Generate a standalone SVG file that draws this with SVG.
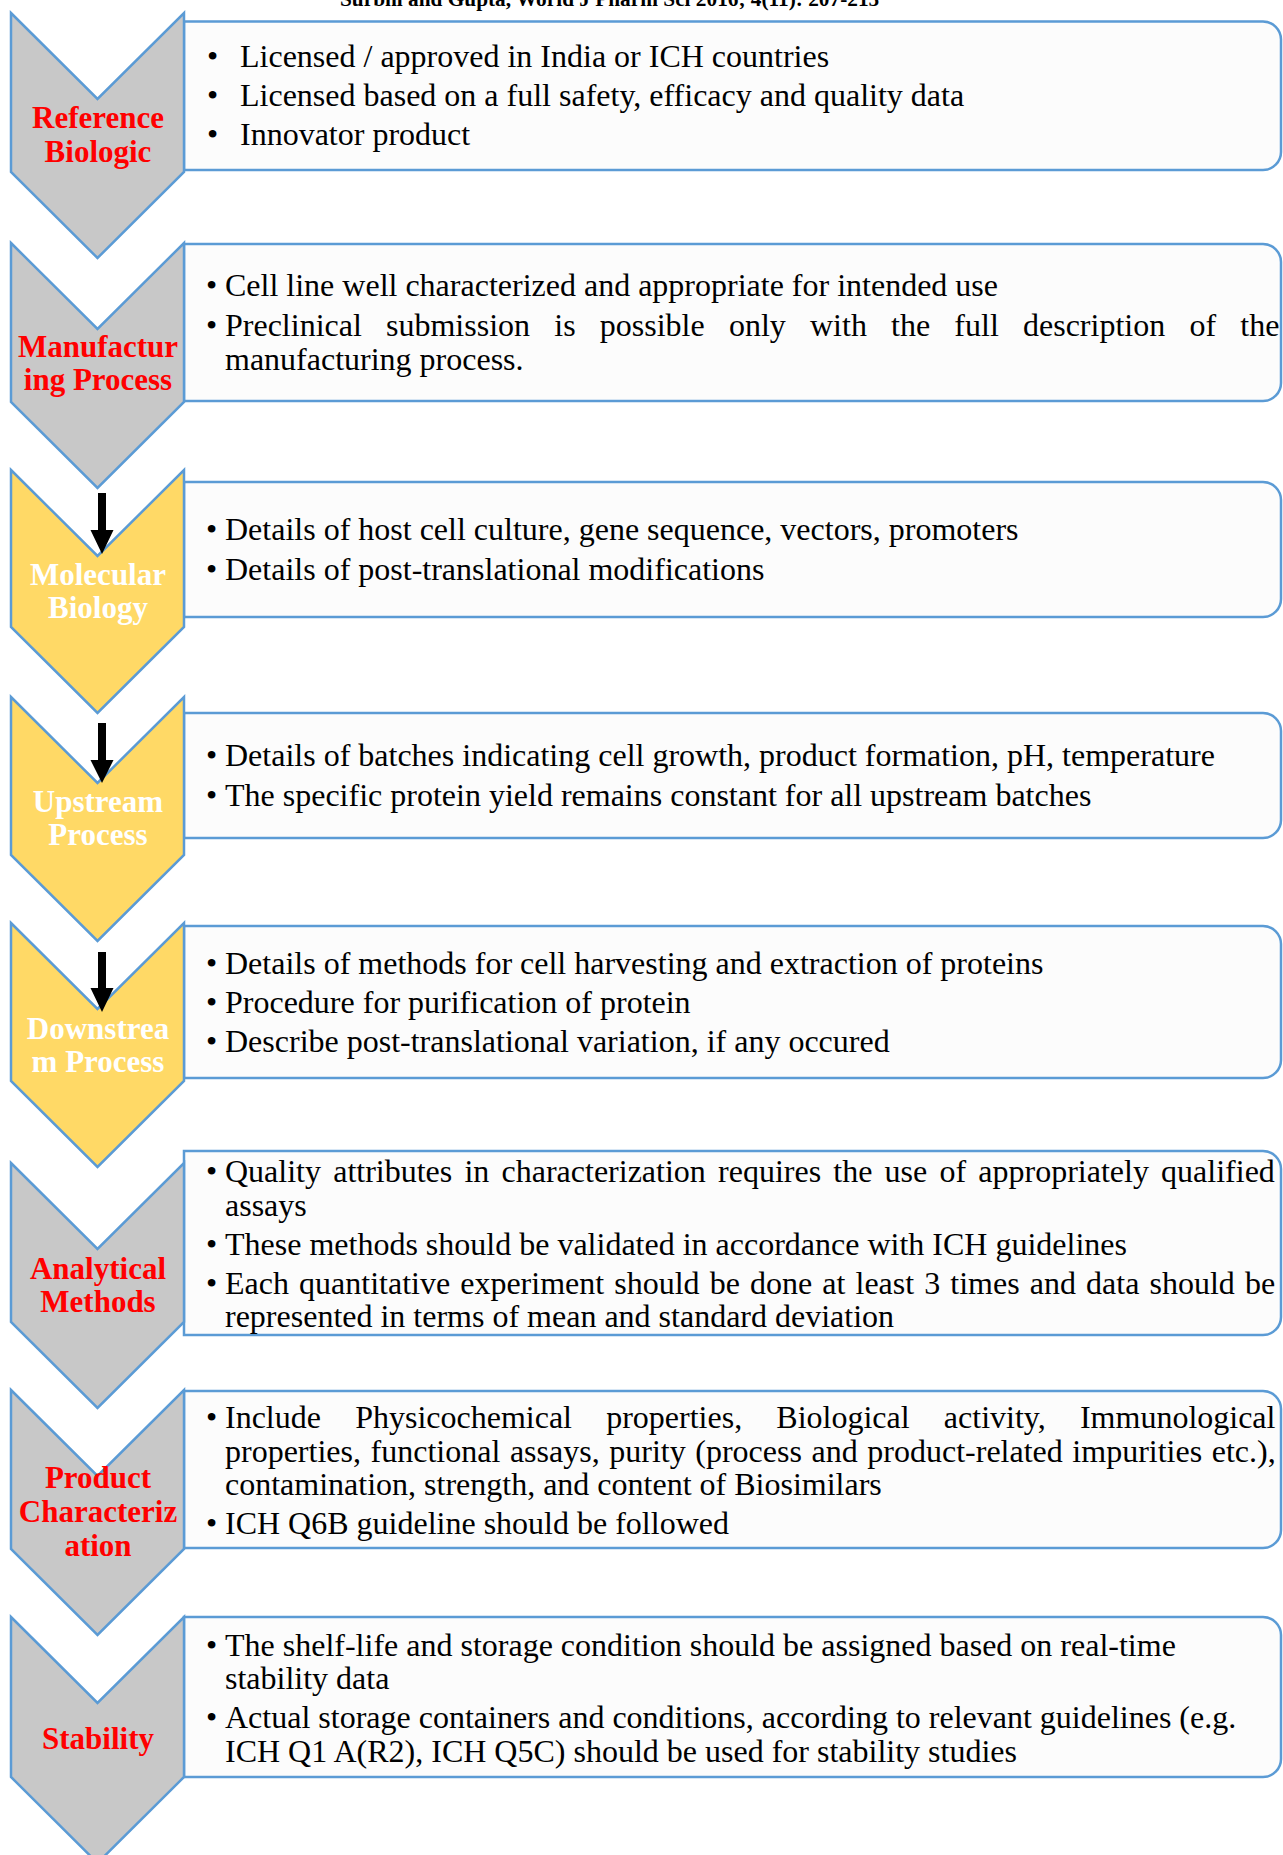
<svg xmlns="http://www.w3.org/2000/svg" width="1283" height="1855" viewBox="0 0 1283 1855">
<style>
.grey{fill:#c8c8c8;stroke:#5b9bd5;stroke-width:2.5;stroke-linejoin:miter}
.yel{fill:#ffd966;stroke:#5b9bd5;stroke-width:2.5;stroke-linejoin:miter}
.box{fill:#fcfcfc;stroke:#5b9bd5;stroke-width:2.5}
.t{font-family:"Liberation Serif","Times New Roman",serif;font-weight:bold;font-size:31px;text-anchor:middle}
.red{fill:#ff0000}
.wht{fill:#ffffff}
.b{font-family:"Liberation Serif","Times New Roman",serif;font-size:32px;fill:#000}
.hdr{font-family:"Liberation Serif","Times New Roman",serif;font-weight:bold;font-size:21.3px;fill:#000}
.arr{fill:#000}
</style>
<rect width="1283" height="1855" fill="#ffffff"/>
<text class="hdr" x="340" y="6">Surbhi and Gupta, World J Pharm Sci 2016; 4(11): 207-215</text>

<g id="node1">
<path class="box" d="M184,21.5 H1263 A18,18 0 0 1 1281,39.5 V152 A18,18 0 0 1 1263,170 H184 Z"/>
<polygon class="grey" points="11,13 97.5,99 184,13 184,172 97.5,258 11,172"/>
<text class="t red" x="98" y="128">Reference</text>
<text class="t red" x="98" y="162">Biologic</text>
<text class="b" x="207" y="67">•</text><text class="b" x="240" y="67">Licensed / approved in India or ICH countries</text>
<text class="b" x="207" y="106">•</text><text class="b" x="240" y="106">Licensed based on a full safety, efficacy and quality data</text>
<text class="b" x="207" y="145">•</text><text class="b" x="240" y="145">Innovator product</text>
</g>

<g id="node2">
<path class="box" d="M184,244 H1263 A18,18 0 0 1 1281,262 V383 A18,18 0 0 1 1263,401 H184 Z"/>
<polygon class="grey" points="11,243 97.5,329 184,243 184,402 97.5,488 11,402"/>
<text class="t red" x="98" y="357">Manufactur</text>
<text class="t red" x="98" y="390">ing Process</text>
<text class="b" x="206" y="296">•</text><text class="b" x="225" y="296">Cell line well characterized and appropriate for intended use</text>
<text class="b" x="206" y="336">•</text><text class="b" x="225" y="336" style="word-spacing:16.2px">Preclinical submission is possible only with the full description of the</text>
<text class="b" x="225" y="370">manufacturing process.</text>
</g>

<g id="node3">
<path class="box" d="M184,482 H1263 A18,18 0 0 1 1281,500 V599 A18,18 0 0 1 1263,617 H184 Z"/>
<polygon class="yel" points="11,470 97.5,556 184,470 184,627 97.5,713 11,627"/>
<text class="t wht" x="98" y="585">Molecular</text>
<text class="t wht" x="98" y="618">Biology</text>
<text class="b" x="206" y="540">•</text><text class="b" x="225" y="540">Details of host cell culture, gene sequence, vectors, promoters</text>
<text class="b" x="206" y="580">•</text><text class="b" x="225" y="580">Details of post-translational modifications</text>
</g>

<g id="node4">
<path class="box" d="M184,713 H1263 A18,18 0 0 1 1281,731 V820 A18,18 0 0 1 1263,838 H184 Z"/>
<polygon class="yel" points="11,697 97.5,783 184,697 184,855 97.5,941 11,855"/>
<text class="t wht" x="98" y="812">Upstream</text>
<text class="t wht" x="98" y="845">Process</text>
<text class="b" x="206" y="766">•</text><text class="b" x="225" y="766">Details of batches indicating cell growth, product formation, pH, temperature</text>
<text class="b" x="206" y="806">•</text><text class="b" x="225" y="806">The specific protein yield remains constant for all upstream batches</text>
</g>

<g id="node5">
<path class="box" d="M184,926 H1263 A18,18 0 0 1 1281,944 V1060 A18,18 0 0 1 1263,1078 H184 Z"/>
<polygon class="yel" points="11,923 97.5,1009 184,923 184,1081 97.5,1167 11,1081"/>
<text class="t wht" x="98" y="1039">Downstrea</text>
<text class="t wht" x="98" y="1072">m Process</text>
<text class="b" x="206" y="974">•</text><text class="b" x="225" y="974">Details of methods for cell harvesting and extraction of proteins</text>
<text class="b" x="206" y="1013">•</text><text class="b" x="225" y="1013">Procedure for purification of protein</text>
<text class="b" x="206" y="1052">•</text><text class="b" x="225" y="1052">Describe post-translational variation, if any occured</text>
</g>

<g id="node6">
<path class="box" d="M184,1151 H1263 A18,18 0 0 1 1281,1169 V1317 A18,18 0 0 1 1263,1335 H184 Z"/>
<polygon class="grey" points="11,1163 97.5,1249 184,1163 184,1322 97.5,1408 11,1322"/>
<text class="t red" x="98" y="1279">Analytical</text>
<text class="t red" x="98" y="1312">Methods</text>
<text class="b" x="206" y="1182">•</text><text class="b" x="225" y="1182" style="word-spacing:4.2px">Quality attributes in characterization requires the use of appropriately qualified</text>
<text class="b" x="225" y="1216">assays</text>
<text class="b" x="206" y="1255">•</text><text class="b" x="225" y="1255">These methods should be validated in accordance with ICH guidelines</text>
<text class="b" x="206" y="1294">•</text><text class="b" x="225" y="1294" style="word-spacing:2.1px">Each quantitative experiment should be done at least 3 times and data should be</text>
<text class="b" x="225" y="1327">represented in terms of mean and standard deviation</text>
</g>

<g id="node7">
<path class="box" d="M184,1391 H1263 A18,18 0 0 1 1281,1409 V1530 A18,18 0 0 1 1263,1548 H184 Z"/>
<polygon class="grey" points="11,1390 97.5,1476 184,1390 184,1549 97.5,1635 11,1549"/>
<text class="t red" x="98" y="1488">Product</text>
<text class="t red" x="98" y="1522">Characteriz</text>
<text class="t red" x="98" y="1556">ation</text>
<text class="b" x="206" y="1428">•</text><text class="b" x="225" y="1428" style="word-spacing:26.2px">Include Physicochemical properties, Biological activity, Immunological</text>
<text class="b" x="225" y="1462" style="word-spacing:1.6px">properties, functional assays, purity (process and product-related impurities etc.),</text>
<text class="b" x="225" y="1495">contamination, strength, and content of Biosimilars</text>
<text class="b" x="206" y="1534">•</text><text class="b" x="225" y="1534">ICH Q6B guideline should be followed</text>
</g>

<g id="node8">
<path class="box" d="M184,1617 H1263 A18,18 0 0 1 1281,1635 V1759 A18,18 0 0 1 1263,1777 H184 Z"/>
<polygon class="grey" points="11,1617 97.5,1703 184,1617 184,1777 97.5,1863 11,1777"/>
<text class="t red" x="98" y="1749">Stability</text>
<text class="b" x="206" y="1656">•</text><text class="b" x="225" y="1656">The shelf-life and storage condition should be assigned based on real-time</text>
<text class="b" x="225" y="1689">stability data</text>
<text class="b" x="206" y="1728">•</text><text class="b" x="225" y="1728">Actual storage containers and conditions, according to relevant guidelines (e.g.</text>
<text class="b" x="225" y="1762">ICH Q1 A(R2), ICH Q5C) should be used for stability studies</text>
</g>

<g id="connectors">
<polygon class="arr" points="98,493 106,493 106,530 113.5,530 102,554 90.5,530 98,530"/>
<polygon class="arr" points="98,723 106,723 106,760 113.5,760 102,783 90.5,760 98,760"/>
<polygon class="arr" points="98,952 106,952 106,988 113.5,988 102,1012 90.5,988 98,988"/>
</g>
</svg>
